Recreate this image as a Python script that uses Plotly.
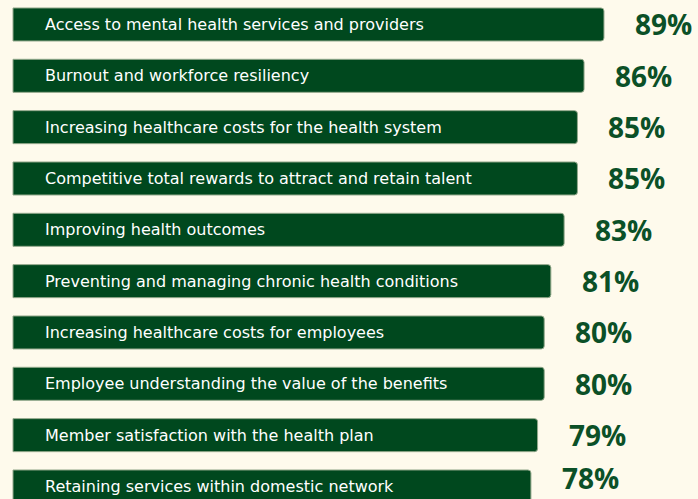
import plotly.graph_objects as go

categories = [
    "Access to mental health services and providers",
    "Burnout and workforce resiliency",
    "Increasing healthcare costs for the health system",
    "Competitive total rewards to attract and retain talent",
    "Improving health outcomes",
    "Preventing and managing chronic health conditions",
    "Increasing healthcare costs for employees",
    "Employee understanding the value of the benefits",
    "Member satisfaction with the health plan",
    "Retaining services within domestic network",
]
values = [89, 86, 85, 85, 83, 81, 80, 80, 79, 78]
value_labels = [f"{v}%" for v in values]

BG = "#fefaec"
BAR = "#00481e"
LABEL = "#0b5027"

fig = go.Figure()
fig.add_trace(go.Bar(
    x=values,
    y=categories,
    orientation="h",
    marker=dict(color=BAR, line=dict(color="#93a98c", width=1), cornerradius=3),
    hoverinfo="skip",
))

annotations = []
n = len(categories)
for i, (cat, v, lab) in enumerate(zip(categories, values, value_labels)):
    annotations.append(dict(
        x=0, y=cat, xref="x", yref="y", text=cat, showarrow=False,
        xanchor="left", yanchor="middle", xshift=30,
        font=dict(family="DejaVu Sans", size=16, color="#ffffff"),
    ))
    annotations.append(dict(
        x=v, y=cat, xref="x", yref="y", text=lab, showarrow=False,
        xanchor="left", yanchor="middle", xshift=29,
        yshift=8 if i == n - 1 else 0,
        font=dict(family="Open Sans", size=28, color=LABEL, weight="bold"),
    ))

fig.update_layout(
    width=698, height=499,
    margin=dict(l=0, r=0, t=0, b=0),
    paper_bgcolor=BG, plot_bgcolor=BG,
    bargap=0.357,
    showlegend=False,
    annotations=annotations,
    xaxis=dict(range=[-1.958, 103.16], visible=False, fixedrange=True),
    yaxis=dict(range=[9.244, -0.477], visible=False, fixedrange=True,
               categoryorder="array", categoryarray=categories),
)

fig.write_html(
    "out.html",
    config={"displayModeBar": False},
    post_script="document.body.style.margin='0';document.body.style.background='" + BG + "';",
)
